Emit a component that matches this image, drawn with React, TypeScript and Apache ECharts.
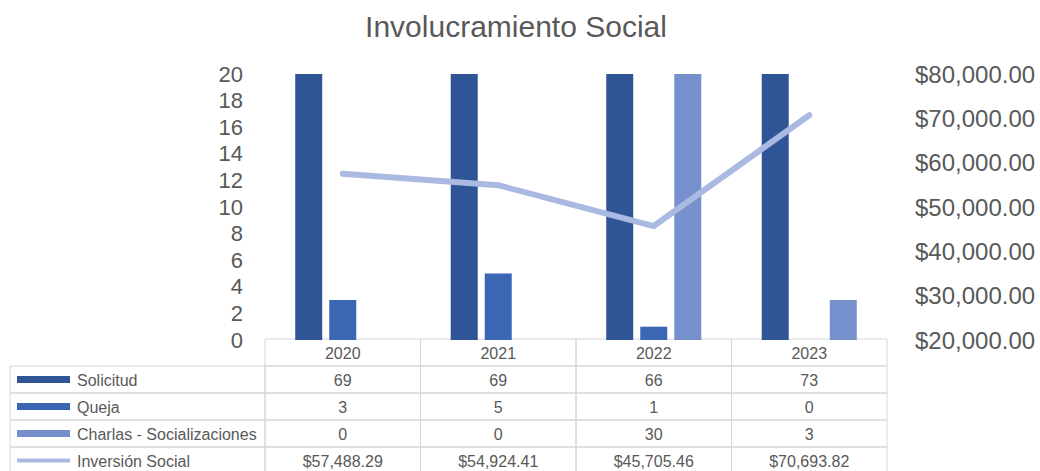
import React, { useEffect, useRef } from "react";
import * as echarts from "echarts";

const years = ["2020", "2021", "2022", "2023"];
const solicitud = [69, 69, 66, 73];
const queja = [3, 5, 1, 0];
const charlas = [0, 0, 30, 3];
const inversion = [57488.29, 54924.41, 45705.46, 70693.82];
const seriesNames = ["Solicitud", "Queja", "Charlas - Socializaciones", "Inversión Social"];
const colors = ["#2F5597", "#3A66B4", "#7590CC", "#AAB9E1"];

const W = 1040;
const H = 471;
const GRID_L = 265;
const GRID_R = 887;
const GRID_T = 74;
const GRID_B = 340;
const ROW_H = 27;
const TABLE_L = 10;
const FONT = "'Liberation Sans', Arial, sans-serif";
const TEXT_COLOR = "#595959";
const BORDER = "#D6D6D6";

const money = (v: number) =>
  "$" + v.toLocaleString("en-US", { minimumFractionDigits: 2, maximumFractionDigits: 2 });

function buildTable() {
  const els: any[] = [];
  const colW = (GRID_R - GRID_L) / years.length;
  const rows = [
    solicitud.map(String),
    queja.map(String),
    charlas.map(String),
    inversion.map(money),
  ];
  const top = GRID_B - 1;
  years.forEach((y, i) => {
    els.push({
      type: "rect",
      shape: { x: GRID_L + i * colW, y: top, width: colW, height: ROW_H },
      style: { fill: "none", stroke: BORDER, lineWidth: 1 },
    });
    els.push({
      type: "text",
      x: GRID_L + i * colW + colW / 2,
      y: top + ROW_H / 2 + 1,
      style: {
        text: y,
        fill: TEXT_COLOR,
        font: `16px ${FONT}`,
        align: "center",
        verticalAlign: "middle",
      },
    });
  });
  rows.forEach((vals, r) => {
    const y0 = top + ROW_H * (r + 1);
    els.push({
      type: "rect",
      shape: { x: TABLE_L, y: y0, width: GRID_L - TABLE_L, height: ROW_H },
      style: { fill: "none", stroke: BORDER, lineWidth: 1 },
    });
    const isLine = r === 3;
    els.push({
      type: "rect",
      shape: {
        x: 17,
        y: y0 + ROW_H / 2 - (isLine ? 2 : 3.5),
        width: 53,
        height: isLine ? 4 : 7,
      },
      style: { fill: colors[r] },
    });
    els.push({
      type: "text",
      x: 77,
      y: y0 + ROW_H / 2 + 1,
      style: {
        text: seriesNames[r],
        fill: TEXT_COLOR,
        font: `16px ${FONT}`,
        align: "left",
        verticalAlign: "middle",
      },
    });
    vals.forEach((v, i) => {
      els.push({
        type: "rect",
        shape: { x: GRID_L + i * colW, y: y0, width: colW, height: ROW_H },
        style: { fill: "none", stroke: BORDER, lineWidth: 1 },
      });
      els.push({
        type: "text",
        x: GRID_L + i * colW + colW / 2,
        y: y0 + ROW_H / 2 + 1,
        style: {
          text: v,
          fill: TEXT_COLOR,
          font: `16px ${FONT}`,
          align: "center",
          verticalAlign: "middle",
        },
      });
    });
  });
  return els;
}

export default function App() {
  const ref = useRef<HTMLDivElement>(null);
  useEffect(() => {
    if (!ref.current) return;
    const chart = echarts.init(ref.current, null, { renderer: "svg" });
    const option: any = {
      animation: false,
      backgroundColor: "#FFFFFF",
      title: {
        text: "Involucramiento Social",
        left: 511,
        top: 6,
        textAlign: "center",
        textStyle: {
          fontFamily: FONT,
          fontSize: 30,
          fontWeight: "normal",
          color: TEXT_COLOR,
        },
      },
      grid: {
        left: GRID_L,
        right: W - GRID_R,
        top: GRID_T,
        bottom: H - GRID_B,
        containLabel: false,
        outerBoundsMode: "none",
      },
      xAxis: {
        type: "category",
        data: years,
        boundaryGap: true,
        axisLine: { show: false },
        axisTick: { show: false },
        axisLabel: { show: false },
        splitLine: { show: false },
      },
      yAxis: [
        {
          type: "value",
          min: 0,
          max: 20,
          interval: 2,
          axisLine: { show: false },
          axisTick: { show: false },
          splitLine: { show: false },
          axisLabel: {
            margin: 22,
            fontSize: 22,
            fontFamily: FONT,
            color: TEXT_COLOR,
          },
        },
        {
          type: "value",
          min: 20000,
          max: 80000,
          interval: 10000,
          position: "right",
          axisLine: { show: false },
          axisTick: { show: false },
          splitLine: { show: false },
          axisLabel: {
            margin: 28,
            fontSize: 24,
            fontFamily: FONT,
            color: TEXT_COLOR,
            formatter: (v: number) => money(v),
          },
        },
      ],
      series: [
        {
          name: seriesNames[0],
          type: "bar",
          data: solicitud,
          barWidth: 27,
          barGap: "26%",
          itemStyle: { color: colors[0] },
        },
        {
          name: seriesNames[1],
          type: "bar",
          data: queja,
          barWidth: 27,
          barGap: "26%",
          itemStyle: { color: colors[1] },
        },
        {
          name: seriesNames[2],
          type: "bar",
          data: charlas,
          barWidth: 27,
          barGap: "26%",
          itemStyle: { color: colors[2] },
        },
        {
          name: seriesNames[3],
          type: "line",
          yAxisIndex: 1,
          data: inversion,
          symbol: "none",
          z: 5,
          lineStyle: { color: colors[3], width: 6, cap: "round", join: "round" },
        },
      ],
      graphic: buildTable(),
    };
    chart.setOption(option);
    return () => chart.dispose();
  }, []);
  return (
    <div
      ref={ref}
      style={{ position: "fixed", left: 0, top: 0, width: W, height: H }}
    />
  );
}
